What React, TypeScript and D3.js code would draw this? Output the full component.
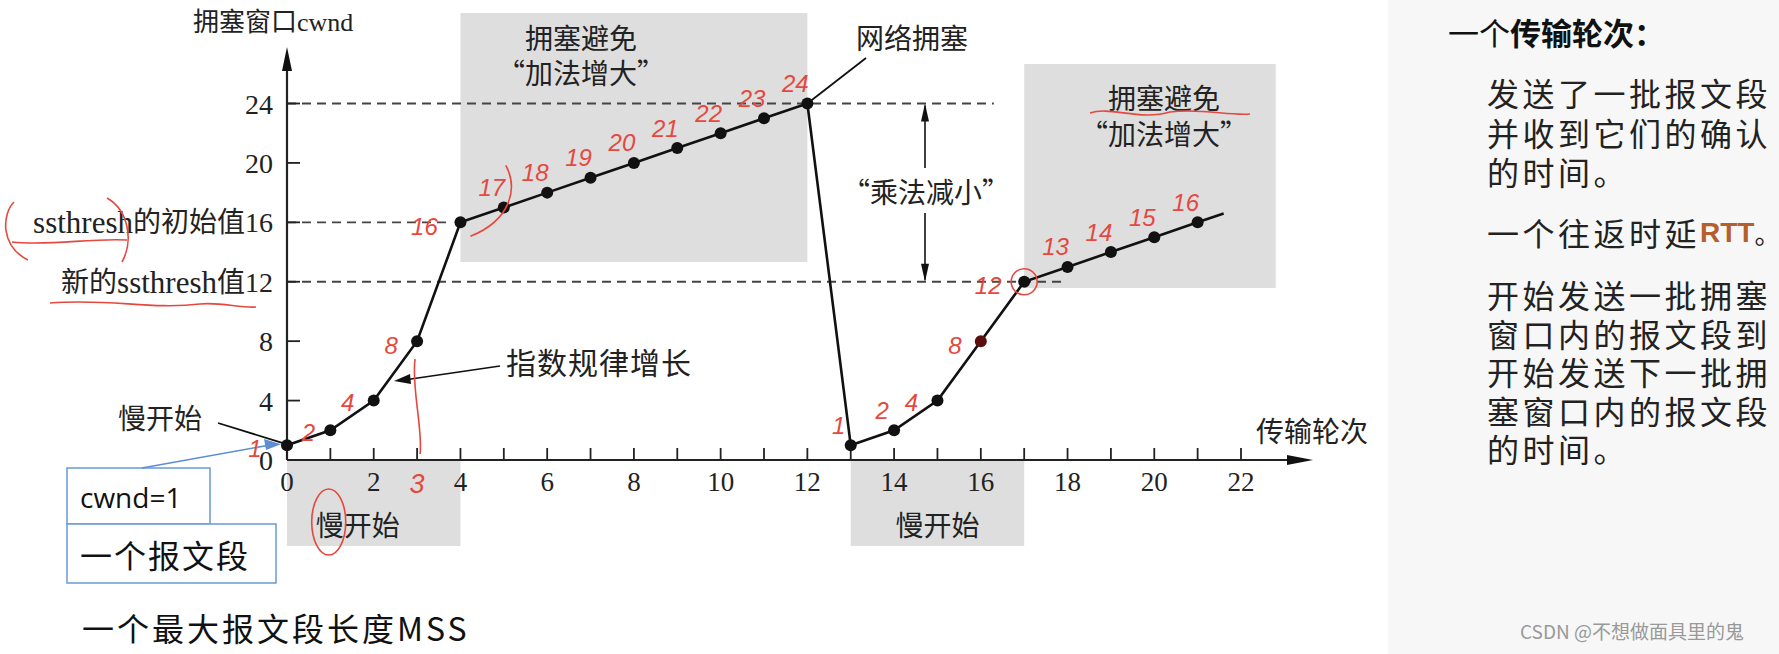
import React from "react";
import * as d3 from "d3";

// cwnd per transmission round
const rounds = [0, 1, 2, 3, 4, 5, 6, 7, 8, 9, 10, 11, 12, 13, 14, 15, 16, 17, 18, 19, 20, 21];
const cwnd = [1, 2, 4, 8, 16, 17, 18, 19, 20, 21, 22, 23, 24, 1, 2, 4, 8, 12, 13, 14, 15, 16];
// the line keeps going a little after the last dot
const tailRound = 21.6;
const tailCwnd = 16.6;

const xTickValues = [0, 1, 2, 3, 4, 5, 6, 7, 8, 9, 10, 11, 12, 13, 14, 15, 16, 17, 18, 19, 20, 21, 22];
const xLabelValues = [0, 2, 4, 6, 8, 10, 12, 14, 16, 18, 20, 22];
const yTickValues = [0, 4, 8, 12, 16, 20, 24];
const yTickLabels = ["0", "4", "8", "新的ssthresh值12", "ssthresh的初始值16", "20", "24"];

// dashed reference levels and the round where each dash stops
const dashLevels = [24, 16, 12];
const dashEnds = [16.3, 3.7, 17.9];

// phases along the x axis
const phaseNames = ["慢开始", "拥塞避免", "慢开始", "拥塞避免"];
const phaseStarts = [0, 4, 13, 17];
const phaseEnds = [4, 12, 17, 22.8];

const panelTitle = ["一个", "传输轮次："];
const panelLines = ["发送了一批报文段", "并收到它们的确认", "的时间。"];
const rttLine = ["一个往返时延", "RTT", "。"];
const panelLines2 = [
  "开始发送一批拥塞",
  "窗口内的报文段到",
  "开始发送下一批拥",
  "塞窗口内的报文段",
  "的时间。",
];

const W = 1779;
const H = 654;
const serif = "'Liberation Serif', 'Noto Sans CJK SC', serif";
const cjk = "'Noto Sans CJK SC', sans-serif";
const red = "#e5483e";
const gray = "#dedede";

// split a label into latin / digit / CJK runs so each gets its own size
function labelRuns(s: string) {
  const runs = s.match(/[a-z]+|\d+|[^a-z\d]+/g) || [];
  return runs.map((r, i) => {
    const size = /[a-z]/.test(r) ? 31 : 28;
    return (
      <tspan key={i} fontSize={size}>
        {r}
      </tspan>
    );
  });
}

export default function App() {
  const x = d3.scaleLinear().domain([0, 22]).range([287, 1241]);
  const y = d3.scaleLinear().domain([0, 24]).range([460, 103.5]);

  const pts: [number, number][] = rounds.map((r, i) => [r, cwnd[i]]);
  const line = d3
    .line<[number, number]>()
    .x((d) => x(d[0]))
    .y((d) => y(d[1]));

  const x0 = x(0);
  const y0 = y(0);
  const yArrowTip = 47;
  const xArrowTip = 1313;

  // where the red handwritten numbers sit next to each dot
  const redPos = (i: number) => {
    const jump = i > 0 ? cwnd[i] - cwnd[i - 1] : 0;
    if (i === 0) return [-32, 3];
    if (jump >= 4) return [String(cwnd[i]).length > 1 ? -36 : -26, 4];
    if (jump === 2) return [-26, 2];
    if (i === 1) return [-22, 2];
    return [-12, -20];
  };

  const aboveBoxes = [
    { i: 1, top: 13, bottom: 262, tx: 581, ty1: 37, ty2: 72 },
    { i: 3, top: 64, bottom: 288, tx: 1164, ty1: 97, ty2: 133 },
  ];
  const belowBoxes = [
    { i: 0, shift: -16 },
    { i: 2, shift: 0 },
  ];

  return (
    <svg
      width={W}
      height={H}
      viewBox={`0 0 ${W} ${H}`}
      style={{ position: "absolute", left: 0, top: 0, background: "#fff" }}
    >
      <rect x={1388} y={0} width={W - 1388} height={H} fill="#f7f7f7" />

      {/* phase boxes */}
      {aboveBoxes.map((b) => (
        <g key={b.i}>
          <rect
            x={x(phaseStarts[b.i])}
            y={b.top}
            width={x(phaseEnds[b.i]) - x(phaseStarts[b.i])}
            height={b.bottom - b.top}
            fill={gray}
          />
          <text x={b.tx} y={b.ty1} textAnchor="middle" dominantBaseline="central" fontFamily={cjk} fontSize={28} fill="#222">
            {phaseNames[b.i]}
          </text>
          <text x={b.tx} y={b.ty2} textAnchor="middle" dominantBaseline="central" fontFamily={cjk} fontSize={28} fill="#222">
            “加法增大”
          </text>
        </g>
      ))}
      {belowBoxes.map((b) => (
        <g key={b.i}>
          <rect x={x(phaseStarts[b.i])} y={y0} width={x(phaseEnds[b.i]) - x(phaseStarts[b.i])} height={86} fill={gray} />
          <text
            x={(x(phaseStarts[b.i]) + x(phaseEnds[b.i])) / 2 + b.shift}
            y={y0 + 64}
            textAnchor="middle"
            dominantBaseline="central"
            fontFamily={cjk}
            fontSize={28}
            fill="#222"
          >
            {phaseNames[b.i]}
          </text>
        </g>
      ))}

      {/* dashed levels */}
      {dashLevels.map((v, i) => (
        <line
          key={v}
          x1={x0}
          x2={x(dashEnds[i])}
          y1={y(v)}
          y2={y(v)}
          stroke="#444"
          strokeWidth={1.8}
          strokeDasharray="9 6"
        />
      ))}

      {/* axes */}
      <line x1={x0} x2={x0} y1={y0} y2={yArrowTip + 18} stroke="#222" strokeWidth={2.2} />
      <path d={`M${x0},${yArrowTip} L${x0 - 5},${yArrowTip + 24} L${x0 + 5},${yArrowTip + 24} Z`} fill="#111" />
      <line x1={x0} x2={xArrowTip - 18} y1={y0} y2={y0} stroke="#222" strokeWidth={2.2} />
      <path d={`M${xArrowTip},${y0} L${xArrowTip - 26},${y0 - 5} L${xArrowTip - 26},${y0 + 5} Z`} fill="#111" />

      {xTickValues.map((v) => (
        <line key={v} x1={x(v)} x2={x(v)} y1={y0} y2={y0 - 12} stroke="#222" strokeWidth={1.8} />
      ))}
      {xLabelValues.map((v) => (
        <text key={v} x={x(v)} y={y0 + 22} textAnchor="middle" dominantBaseline="central" fontFamily={serif} fontSize={27} fill="#222">
          {v}
        </text>
      ))}
      {yTickValues.map((v, i) => (
        <g key={v}>
          {v > 0 && <line x1={x0} x2={x0 + 13} y1={y(v)} y2={y(v)} stroke="#222" strokeWidth={1.8} />}
          <text x={x0 - 14} y={y(v)} textAnchor="end" dominantBaseline="central" fontFamily={serif} fontSize={28} fill="#222">
            {labelRuns(yTickLabels[i])}
          </text>
        </g>
      ))}

      <text x={193} y={22} dominantBaseline="central" fontFamily={serif} fontSize={26} fill="#222">
        拥塞窗口cwnd
      </text>
      <text x={1256} y={430} dominantBaseline="central" fontFamily={cjk} fontSize={28} fill="#222">
        传输轮次
      </text>

      {/* cwnd line and dots */}
      <path d={line(pts.slice(0, 13)) || ""} fill="none" stroke="#111" strokeWidth={2.6} />
      <path d={line([pts[12], ...pts.slice(13), [tailRound, tailCwnd]]) || ""} fill="none" stroke="#111" strokeWidth={2.6} />
      {pts.map((p, i) => (
        <circle key={i} cx={x(p[0])} cy={y(p[1])} r={6} fill={p[0] === 16 ? "#5a0e0e" : "#111"} />
      ))}

      {/* annotations */}
      <text x={912} y={37} textAnchor="middle" dominantBaseline="central" fontFamily={cjk} fontSize={28} fill="#222">
        网络拥塞
      </text>
      <line x1={x(12)} y1={y(24)} x2={866} y2={58} stroke="#111" strokeWidth={1.8} />

      <line x1={925} x2={925} y1={y(24) + 2} y2={168} stroke="#111" strokeWidth={1.6} />
      <line x1={925} x2={925} y1={213} y2={y(12) - 2} stroke="#111" strokeWidth={1.6} />
      <path d={`M925,${y(24)} L921,${y(24) + 18} L929,${y(24) + 18} Z`} fill="#111" />
      <path d={`M925,${y(12)} L921,${y(12) - 18} L929,${y(12) - 18} Z`} fill="#111" />
      <text x={926} y={191} textAnchor="middle" dominantBaseline="central" fontFamily={cjk} fontSize={28} fill="#222">
        “乘法减小”
      </text>

      <text x={160} y={417} textAnchor="middle" dominantBaseline="central" fontFamily={cjk} fontSize={28} fill="#222">
        慢开始
      </text>
      <line x1={218} y1={423} x2={x(0) - 4} y2={y(1) - 2} stroke="#111" strokeWidth={1.8} />

      <text x={506} y={361} dominantBaseline="central" fontFamily={cjk} fontSize={30} letterSpacing={1} fill="#222">
        指数规律增长
      </text>
      <line x1={500} y1={366} x2={404} y2={380} stroke="#111" strokeWidth={1.6} />
      <path d="M394,381 L410,374 L411,384 Z" fill="#111" />

      {/* cwnd = 1 boxes */}
      <rect x={67} y={468} width={143} height={56} fill="#fff" stroke="#6a9ad6" strokeWidth={1.5} />
      <rect x={67} y={524} width={209} height={59} fill="#fff" stroke="#6a9ad6" strokeWidth={1.5} />
      <text x={80} y={497} dominantBaseline="central" fontFamily="'Open Sans', sans-serif" fontSize={28} fill="#111">
        cwnd=1
      </text>
      <text x={80} y={554} dominantBaseline="central" fontFamily={cjk} fontSize={32} letterSpacing={2} fill="#111">
        一个报文段
      </text>
      <line x1={142} y1={468} x2={270} y2={445} stroke="#5b8fd0" strokeWidth={1.5} />
      <path d={`M281,${y(1) - 1} L264,439 L266,450 Z`} fill="#5b8fd0" />
      <text x={82} y={627} dominantBaseline="central" fontFamily={cjk} fontSize={32} letterSpacing={3} fill="#111">
        一个最大报文段长度MSS
      </text>

      {/* red handwriting */}
      <g fill={red} fontFamily="'Liberation Sans', sans-serif" fontStyle="italic" fontSize={24}>
        {pts.map((p, i) => {
          const [dx, dy] = redPos(i);
          return (
            <text key={i} x={x(p[0]) + dx} y={y(p[1]) + dy} textAnchor="middle" dominantBaseline="central">
              {p[1]}
            </text>
          );
        })}
        <text x={x(3)} y={y0 + 24} textAnchor="middle" dominantBaseline="central" fontSize={27}>
          3
        </text>
      </g>
      <g fill="none" stroke={red} strokeWidth={1.6}>
        <path d={`M${x(3) - 2},${y(8) + 18} C${x(3) - 6},${y(5)} ${x(3) + 6},${y(2)} ${x(3) + 3},${y0 - 6}`} />
        <circle cx={x(17)} cy={y(12)} r={13} />
        <path d={`M${x(5) + 2},${y(17) - 42} C${x(5) + 14},${y(17) - 20} ${x(5) + 8},${y(17) + 12} ${x(4) + 10},${y(16) + 14}`} />
        <ellipse cx={x(2) - 45} cy={y0 + 62} rx={17} ry={33} />
        <path d="M14,202 C2,214 0,246 28,260" />
        <path d="M107,198 C128,210 134,240 122,262" />
        <path d="M12,242 C50,246 90,238 127,240" />
        <path d="M50,303 C110,298 150,310 200,304 C220,302 240,308 256,307" />
        <path d="M1090,113 C1110,106 1140,121 1170,112 C1200,108 1230,116 1250,114" />
      </g>

      {/* right panel */}
      <text x={1448} y={31} dominantBaseline="central" fontFamily={cjk} fontSize={31} fill="#111">
        <tspan>{panelTitle[0]}</tspan>
        <tspan fontWeight="bold">{panelTitle[1]}</tspan>
      </text>
      {panelLines.map((t, i) => (
        <text key={t + i} x={1487} y={92 + i * 39.5} dominantBaseline="central" fontFamily={cjk} fontSize={32} letterSpacing={3.5} fill="#222">
          {t}
        </text>
      ))}
      <text x={1487} y={232} dominantBaseline="central" fontFamily={cjk} fontSize={32} fill="#222">
        <tspan letterSpacing={3.5}>{rttLine[0]}</tspan>
        <tspan fontFamily="'Liberation Sans', sans-serif" fontSize={28} fontWeight="bold" fill="#b4602c">
          {rttLine[1]}
        </tspan>
        <tspan fontSize={26}>{rttLine[2]}</tspan>
      </text>
      {panelLines2.map((t, i) => (
        <text key={t + i} x={1487} y={294 + i * 38.5} dominantBaseline="central" fontFamily={cjk} fontSize={32} letterSpacing={3.5} fill="#222">
          {t}
        </text>
      ))}
      <text x={1520} y={630} dominantBaseline="central" fontFamily={cjk} fontSize={19} fill="#999">
        CSDN @不想做面具里的鬼
      </text>
    </svg>
  );
}
